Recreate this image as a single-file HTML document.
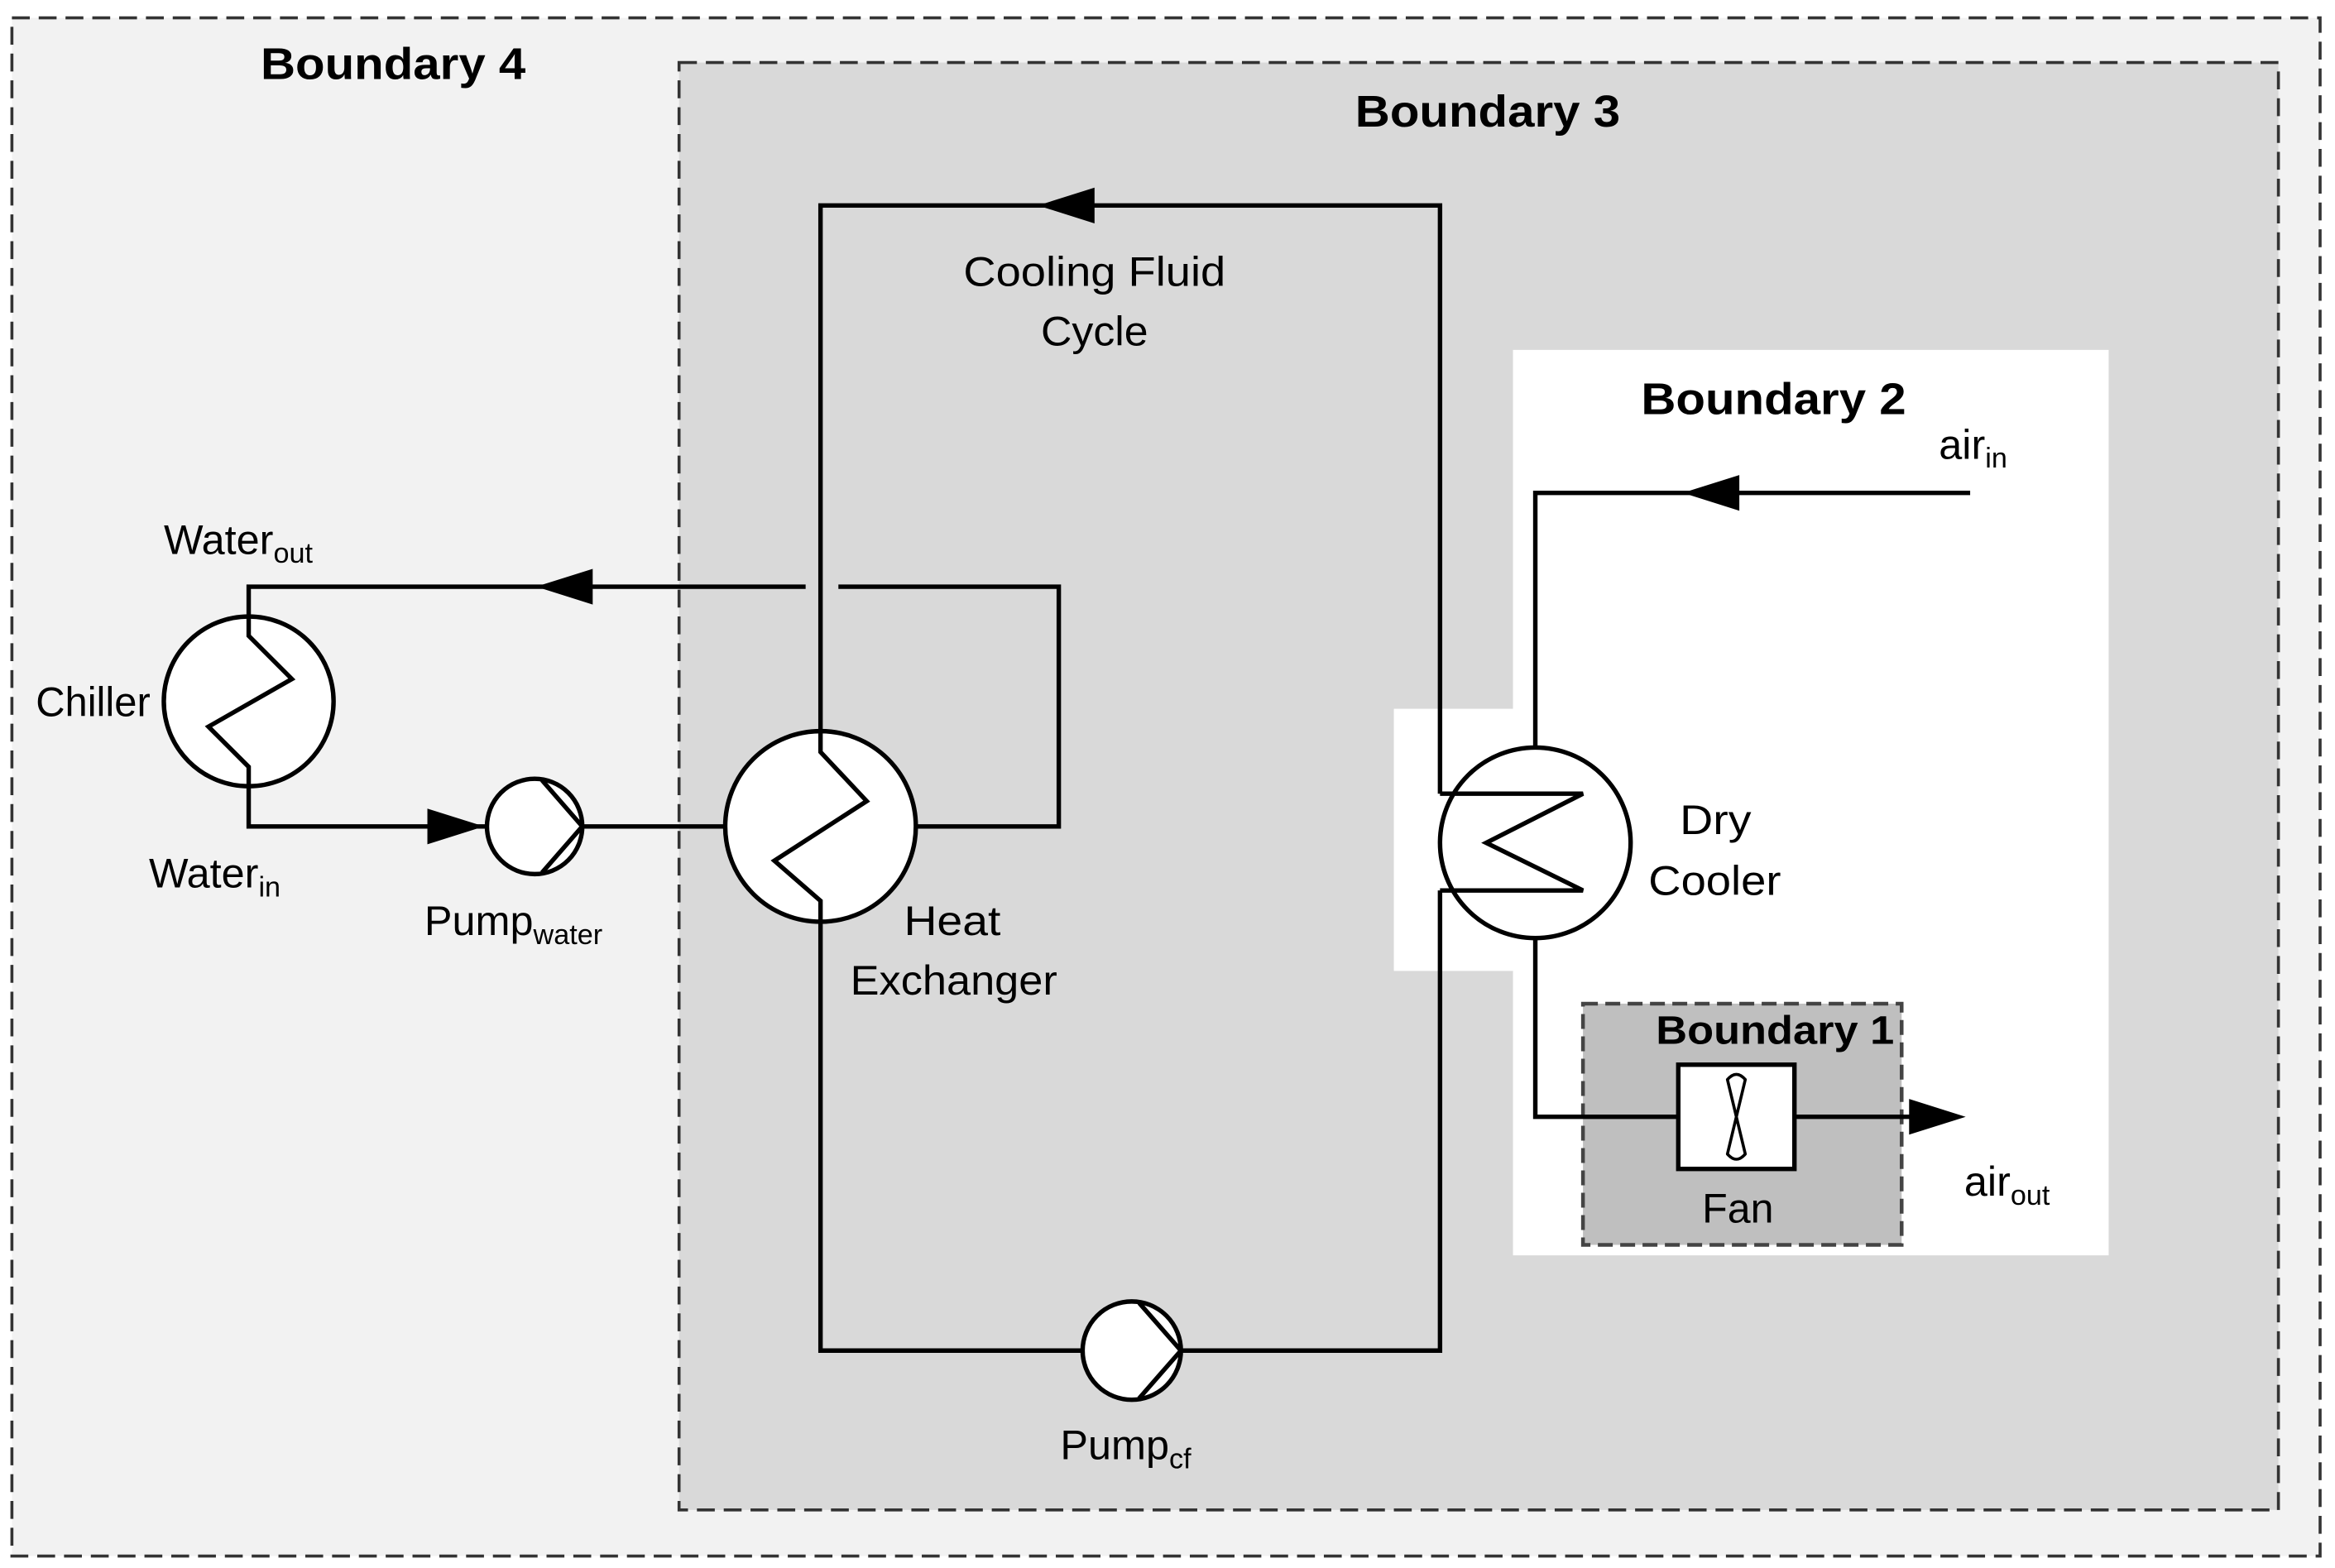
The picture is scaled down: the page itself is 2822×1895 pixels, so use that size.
<!DOCTYPE html>
<html><head><meta charset="utf-8"><style>html,body{margin:0;padding:0;background:#fff}svg{display:block}</style></head>
<body>
<svg width="2822" height="1895" viewBox="0 0 1568 1053" preserveAspectRatio="none" xmlns="http://www.w3.org/2000/svg" font-family="Liberation Sans, sans-serif">
<rect x="0" y="0" width="1568" height="1053" fill="#fff"/>
<rect x="8" y="12" width="1550" height="1033" fill="#f2f2f2" stroke="#333" stroke-width="2" stroke-dasharray="12,6"/>
<rect x="456" y="42" width="1074" height="972" fill="#d9d9d9" stroke="#333" stroke-width="2" stroke-dasharray="12,6"/>
<path d="M1016 235 H1416 V843 H1016 V652 H936 V476 H1016 Z" fill="#fff"/>
<rect x="1063" y="674" width="214" height="162" fill="#bfbfbf" stroke="#444" stroke-width="2.5" stroke-dasharray="10,5"/>
<g font-weight="bold" font-size="30" fill="#000">
<text x="175" y="53" textLength="178" lengthAdjust="spacingAndGlyphs">Boundary 4</text>
<text x="910" y="85" textLength="178" lengthAdjust="spacingAndGlyphs">Boundary 3</text>
<text x="1102" y="278" textLength="178" lengthAdjust="spacingAndGlyphs">Boundary 2</text>
<text x="1112" y="701" font-size="27" textLength="160" lengthAdjust="spacingAndGlyphs">Boundary 1</text>
</g>
<g fill="none" stroke="#000" stroke-width="3">
<path d="M551 491 V138 H967 V533"/>
<path d="M551 620 V907 H967 V598"/>
<path d="M615 555 H711 V394 H563"/>
<path d="M541 394 H167 V414"/>
<path d="M167 528 V555 H327"/>
<path d="M391 555 H487"/>
<path d="M1323 331 H1031 V502"/>
<path d="M1031 630 V750 H1292"/>
</g>
<g fill="#000">
<polygon points="697,138 735,126 735,150"/>
<polygon points="360,394 398,382 398,406"/>
<polygon points="325,555 287,543 287,567"/>
<polygon points="1130,331 1168,319 1168,343"/>
<polygon points="1320,750 1282,738 1282,762"/>
</g>
<g fill="#fff" stroke="#000" stroke-width="3">
<circle cx="551" cy="555" r="64"/>
<circle cx="167" cy="471" r="57"/>
<circle cx="1031" cy="566" r="64"/>
<circle cx="359" cy="555" r="32"/>
<circle cx="760" cy="907" r="33"/>
<rect x="1127" y="715" width="78" height="70"/>
</g>
<g fill="none" stroke="#000" stroke-width="3">
<path d="M551 491 V505 L582 538 L520 578 L551 605 V620"/>
<path d="M167 414 V427 L196 456 L140 488 L167 515 V528"/>
<path d="M967 533 H1063 L998 566 L1063 598 H967"/>
<path d="M364 524 L391 555 L364 586"/>
<path d="M765 875 L793 907 L765 939"/>
<path d="M1160 725 Q1166 718 1172 725 L1160 775 Q1166 782 1172 775 Z" stroke-width="2" stroke-linejoin="round"/>
</g>
<g font-size="28" fill="#000">
<text x="647" y="192" textLength="176" lengthAdjust="spacingAndGlyphs">Cooling Fluid</text>
<text x="699" y="232" textLength="72" lengthAdjust="spacingAndGlyphs">Cycle</text>
<text x="24" y="481" textLength="77" lengthAdjust="spacingAndGlyphs">Chiller</text>
<text x="110" y="372">Water<tspan font-size="19" dy="6">out</tspan></text>
<text x="100" y="596">Water<tspan font-size="19" dy="6">in</tspan></text>
<text x="285" y="628">Pump<tspan font-size="19" dy="6">water</tspan></text>
<text x="607" y="628" textLength="65" lengthAdjust="spacingAndGlyphs">Heat</text>
<text x="571" y="668" textLength="139" lengthAdjust="spacingAndGlyphs">Exchanger</text>
<text x="712" y="980">Pump<tspan font-size="19" dy="6">cf</tspan></text>
<text x="1128" y="560" textLength="48" lengthAdjust="spacingAndGlyphs">Dry</text>
<text x="1107" y="601" textLength="89" lengthAdjust="spacingAndGlyphs">Cooler</text>
<text x="1143" y="821" textLength="48" lengthAdjust="spacingAndGlyphs">Fan</text>
<text x="1302" y="308">air<tspan font-size="19" dy="6">in</tspan></text>
<text x="1319" y="803">air<tspan font-size="19" dy="6">out</tspan></text>
</g>
</svg>
</body></html>
